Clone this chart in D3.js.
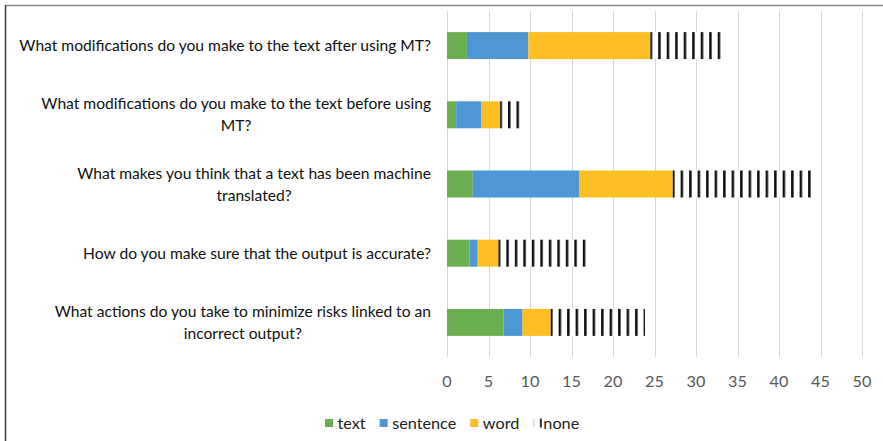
<!DOCTYPE html>
<html>
<head>
<meta charset="utf-8">
<script src="https://cdn.jsdelivr.net/npm/d3@7"></script>
<style>
  html, body { margin: 0; padding: 0; background: #fff; }
  svg { display: block; }
  text { font-family: Lato, "Open Sans", sans-serif; }
</style>
</head>
<body>
<svg id="chart" width="883" height="441"></svg>
<script>
// ---- data ----
const categories = [
  "What modifications do you make to the text after using MT?",
  "What modifications do you make to the text before using\nMT?",
  "What makes you think that a text has been machine\ntranslated?",
  "How do you make sure that the output is accurate?",
  "What actions do you take to minimize risks linked to an\nincorrect output?"
];
const seriesNames = ["text", "sentence", "word", "none"];
const textVals     = [2.4, 1.1, 3.1, 2.7, 6.8];
const sentenceVals = [7.4, 3.0, 12.8, 1.0, 2.3];
const wordVals     = [14.7, 2.3, 11.3, 2.5, 3.4];
const noneVals     = [8.6, 2.9, 17.2, 10.6, 11.35];
const xTicks = [0, 5, 10, 15, 20, 25, 30, 35, 40, 45, 50];

const colors = { text: "#6aae4f", sentence: "#4f97d3", word: "#fdbf24" };

const svg = d3.select("#chart");
const W = 883, H = 441;

// frame lines
svg.append("line").attr("x1", 5).attr("x2", W).attr("y1", 5.5).attr("y2", 5.5)
  .attr("stroke", "#8a8a8a").attr("stroke-width", 1.5);
svg.append("line").attr("x1", 5.5).attr("x2", 5.5).attr("y1", 5).attr("y2", H)
  .attr("stroke", "#3a3a3a").attr("stroke-width", 1.5);

const x = d3.scaleLinear().domain([0, 50]).range([447, 862]);
const y = d3.scaleBand().domain(d3.range(categories.length)).range([11, 357]).paddingInner(0.61).paddingOuter(0.305);

// gridlines
svg.append("g").selectAll("line").data(xTicks).join("line")
  .attr("x1", d => Math.round(x(d)) + 0.5).attr("x2", d => Math.round(x(d)) + 0.5)
  .attr("y1", 11).attr("y2", 357)
  .attr("stroke", "#d9d9d9").attr("stroke-width", 1);

// stack
const rows = categories.map((c, i) => ({
  i, text: textVals[i], sentence: sentenceVals[i], word: wordVals[i], none: noneVals[i]
}));
const stack = d3.stack().keys(seriesNames)(rows);

const defs = svg.append("defs");
const period = 8.5, stripeW = 2.5;

stack.forEach(layer => {
  const key = layer.key;
  const g = svg.append("g");
  layer.forEach((seg, j) => {
    const x0 = x(seg[0]), x1 = x(seg[1]);
    let fill = colors[key];
    if (key === "none") {
      const id = "pat" + j;
      const p = defs.append("pattern").attr("id", id)
        .attr("patternUnits", "userSpaceOnUse")
        .attr("x", x0 - stripeW / 2 + 0.6).attr("y", 0)
        .attr("width", period).attr("height", 10);
      p.append("rect").attr("width", period).attr("height", 10).attr("fill", "#fff");
      p.append("rect").attr("width", stripeW).attr("height", 10).attr("fill", "#111");
      fill = "url(#" + id + ")";
    }
    g.append("rect")
      .attr("x", x0).attr("width", x1 - x0)
      .attr("y", y(j)).attr("height", y.bandwidth())
      .attr("fill", fill);
  });
});

// fit category font size to the reference width
const probe = svg.append("text").attr("font-size", 100).text(categories[0]);
const baseW = probe.node().getComputedTextLength();
probe.remove();
const catSize = 100 * 412 / baseW;
const tickSize = catSize * 1.04;
const legSize = catSize * 1.04;

// category labels
const labelRight = 431;
const lineH = 22;
categories.forEach((c, i) => {
  const lines = c.split("\n");
  const t = svg.append("text").attr("font-size", catSize).attr("fill", "#111")
    .attr("text-anchor", "middle");
  const cy = y(i) + y.bandwidth() / 2;
  const tsp = lines.map((ln, k) => t.append("tspan").text(ln)
    .attr("y", cy + (k - (lines.length - 1) / 2) * lineH + catSize * 0.36));
  const maxW = d3.max(tsp, s => s.node().getComputedTextLength());
  const cx = labelRight - maxW / 2;
  tsp.forEach(s => s.attr("x", cx));
});

// x tick labels
svg.append("g").selectAll("text").data(xTicks).join("text")
  .attr("x", d => x(d)).attr("y", 381 + tickSize * 0.36)
  .attr("text-anchor", "middle").attr("font-size", tickSize).attr("fill", "#595959")
  .text(d => d);

// legend
const legY = 423;
let lx = 325;
seriesNames.forEach(name => {
  if (name === "none") {
    svg.append("line").attr("x1", lx + 0.5).attr("x2", lx + 0.5).attr("y1", legY - 4).attr("y2", legY + 4)
      .attr("stroke", "#cfcfcf").attr("stroke-width", 1);
    svg.append("rect").attr("x", lx + 6.5).attr("y", legY - 4.5).attr("width", 2).attr("height", 9).attr("fill", "#333");
    lx += 10;
  } else {
    svg.append("rect").attr("x", lx).attr("y", legY - 4).attr("width", 8).attr("height", 8).attr("fill", colors[name]);
    lx += 12.5;
  }
  const t = svg.append("text").attr("x", lx).attr("y", legY + legSize * 0.36)
    .attr("font-size", legSize).attr("fill", "#222").text(name);
  lx += t.node().getComputedTextLength() + 14;
});
</script>
</body>
</html>
